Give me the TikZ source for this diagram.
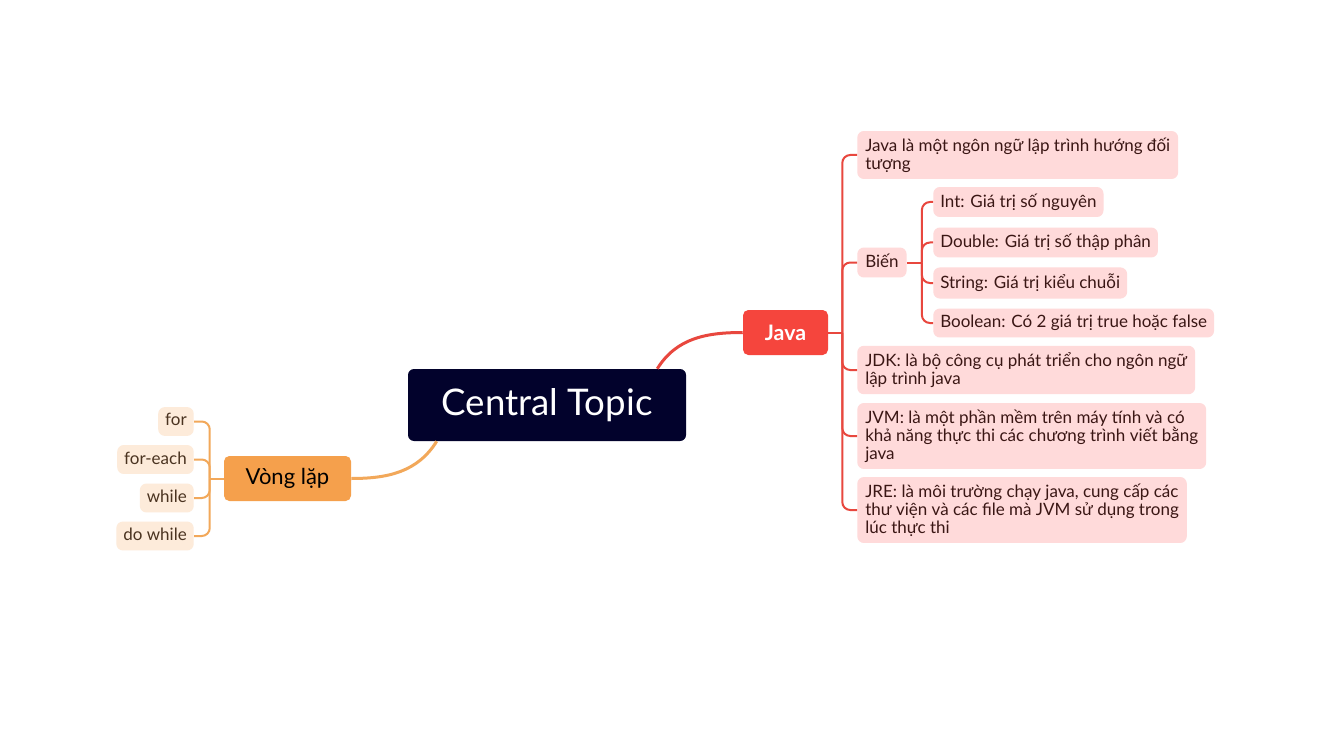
\documentclass[tikz,border=0pt]{standalone}
\usepackage{fontspec}
\setmainfont{Lato}
\usetikzlibrary{calc}
\definecolor{cdark}{HTML}{02022C}
\definecolor{jred}{HTML}{F5453D}
\definecolor{jline}{HTML}{E8473E}
\definecolor{pinkfill}{HTML}{FFDADA}
\definecolor{pinktext}{HTML}{3A1614}
\definecolor{vorange}{HTML}{F5A04C}
\definecolor{oline}{HTML}{F2A85A}
\definecolor{beige}{HTML}{FDEBDA}
\definecolor{beigetext}{HTML}{4A3320}
\newcommand\lnstrut{\rule[-2.6pt]{0pt}{10.9pt}}
\begin{document}
\begin{tikzpicture}[x=0.75pt,y=-0.75pt,
  centralbox/.style={fill=cdark,text=white,rounded corners=4.5pt,minimum width=208.5pt,minimum height=54pt,inner sep=0pt,font=\fontsize{27.5}{32}\selectfont},
  mainbox/.style={rounded corners=4pt,minimum height=33.75pt,inner sep=0pt},
  jleaf/.style={fill=pinkfill,text=pinktext,rounded corners=5pt,align=left,inner xsep=6pt,inner ysep=4.875pt,anchor=west,font=\fontsize{12.75}{13.5}\selectfont},
  oleaf/.style={fill=beige,text=beigetext,rounded corners=5pt,align=left,inner xsep=5.25pt,inner ysep=4.875pt,anchor=east,font=\fontsize{12.75}{13.5}\selectfont},
  jmain/.style={draw=jline,line width=2.25pt},
  jsub/.style={draw=jline,line width=1.5pt,rounded corners=6pt},
  omain/.style={draw=oline,line width=2.25pt},
  osub/.style={draw=oline,line width=1.5pt,rounded corners=6pt}]
\useasboundingbox (0,0) rectangle (1330,734);
\fill[white] (0,0) rectangle (1330,734);

% central and main topics
\node[centralbox] (c) at (547,405) {Central Topic};
\node[mainbox,fill=jred,text=white,minimum width=63.75pt,font=\fontsize{16}{18}\selectfont\bfseries] (java) at (785.5,332.5) {Java};
\node[mainbox,fill=vorange,text=black,minimum width=95.25pt,font=\fontsize{16.5}{18}\selectfont] (vl) at (287.5,478.5) {Vòng lặp};

% Java children
\node[jleaf] (j1) at (857,155) {\lnstrut Java là một ngôn ngữ lập trình hướng đối\\\lnstrut tượng};
\node[jleaf] (bien) at (857,262.5) {\lnstrut Biến};
\node[jleaf,inner xsep=5.25pt] (b1) at (933,202) {\lnstrut Int: Giá trị số nguyên};
\node[jleaf,inner xsep=5.25pt] (b2) at (933,242.5) {\lnstrut Double: Giá trị số thập phân};
\node[jleaf,inner xsep=5.25pt] (b3) at (933,283) {\lnstrut String: Giá trị kiểu chuỗi};
\node[jleaf,inner xsep=5.25pt] (b4) at (933,323) {\lnstrut Boolean: Có 2 giá trị true hoặc false};
\node[jleaf] (j3) at (857,370) {\lnstrut JDK: là bộ công cụ phát triển cho ngôn ngữ\\\lnstrut lập trình java};
\node[jleaf] (j4) at (857,436) {\lnstrut JVM: là một phần mềm trên máy tính và có\\\lnstrut khả năng thực thi các chương trình viết bằng\\\lnstrut java};
\node[jleaf] (j5) at (857,510) {\lnstrut JRE: là môi trường chạy java, cung cấp các\\\lnstrut thư viện và các file mà JVM sử dụng trong\\\lnstrut lúc thực thi};

% loop children
\node[oleaf] (l1) at (194,421.5) {\lnstrut for};
\node[oleaf] (l2) at (194,459.5) {\lnstrut for-each};
\node[oleaf] (l3) at (194,498) {\lnstrut while};
\node[oleaf] (l4) at (194,536) {\lnstrut do while};

% connectors
\draw[jmain] ([xshift=-21.75pt]c.north east) to[out=58,in=180] (java.west);
\draw[omain] ([xshift=21.75pt]c.south west) to[out=-122,in=0] (vl.east);

\coordinate (js) at ($(java.east)+(14,0)$);
\draw[jsub] (java.east) -- (js);
\foreach \n in {j1,bien,j3,j4,j5} \draw[jsub] (js) |- (\n.west);

\coordinate (bs) at ($(bien.east)+(15,0)$);
\draw[jsub] (bien.east) -- (bs);
\foreach \n in {b1,b2,b3,b4} \draw[jsub] (bs) |- (\n.west);

\coordinate (vs) at ($(vl.west)+(-14,0)$);
\draw[osub] (vl.west) -- (vs);
\foreach \n in {l1,l2,l3,l4} \draw[osub] (vs) |- (\n.east);
\end{tikzpicture}
\end{document}
